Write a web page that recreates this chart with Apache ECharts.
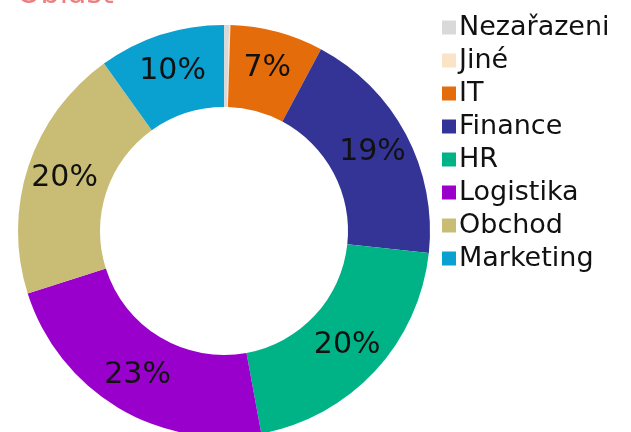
<!DOCTYPE html>
<html>
<head>
<meta charset="utf-8">
<script src="https://cdn.jsdelivr.net/npm/echarts@6/dist/echarts.min.js"></script>
<style>
html,body{margin:0;padding:0;background:#fff;}
#chart{width:631px;height:432px;}
</style>
</head>
<body>
<div id="chart"></div>
<script>
var categories = ['Nezařazeni', 'Jiné', 'IT', 'Finance', 'HR', 'Logistika', 'Obchod', 'Marketing'];
var values = [0.4, 0.1, 7.3, 18.9, 20.4, 23.0, 20.0, 9.9];
var colors = ['#d9d9d9', '#fbe3c8', '#e46c0a', '#343497', '#00b386', '#9a00cc', '#c9bc74', '#0aa0d0'];

var myChart = echarts.init(document.getElementById('chart'));
var pieData = [];
for (var i = 0; i < categories.length; i++) {
	pieData.push({
		name: categories[i],
		value: values[i],
		itemStyle: {color: colors[i]},
		label: {show: values[i] >= 1}
	});
}
option = {
	title: {
		text: 'Oblast',
		left: 12,
		top: -25,
		textStyle: {color: '#ec8080', fontSize: 30, fontWeight: 400, fontFamily: 'DejaVu Sans'}
	},
	legend: {
		orient: 'vertical',
		left: 437,
		top: 9,
		itemWidth: 14,
		itemHeight: 14,
		itemGap: 6,
		icon: 'rect',
		textStyle: {fontFamily: 'DejaVu Sans', fontSize: 27, lineHeight: 27, color: '#111', padding: [0, 0, 0, -2]},
		data: categories
	},
	series: [{
		type: 'pie',
		center: [224, 231],
		radius: [124, 206],
		startAngle: 90,
		clockwise: true,
		avoidLabelOverlap: false,
		animation: false,
		label: {
			position: 'inside',
			formatter: function (p) { return Math.round(p.percent) + '%'; },
			fontFamily: 'DejaVu Sans',
			fontSize: 30,
			color: '#111'
		},
		labelLine: {show: false},
		data: pieData
	}]
};
myChart.setOption(option);
</script>
</body>
</html>
